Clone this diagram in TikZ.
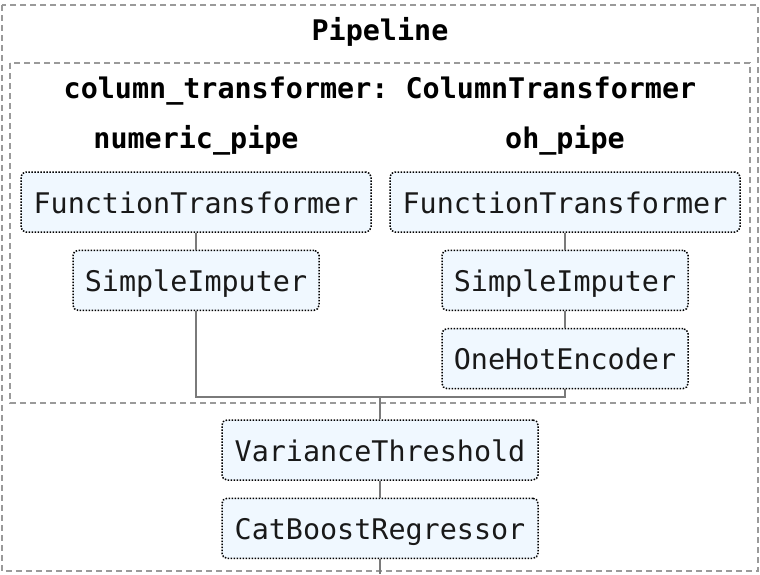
\documentclass[tikz,border=0pt]{standalone}
\usepackage{fontspec}
\setmonofont{DejaVu Sans Mono}
\usetikzlibrary{positioning}
\definecolor{stepfill}{HTML}{F0F8FF}
\definecolor{linegray}{HTML}{7A7A7A}
\definecolor{boxgray}{HTML}{9A9A9A}

\begin{document}
\begin{tikzpicture}[x=1pt, y=-1pt, node distance=16.8pt]
        % Define block styles
        \tikzset{
          stepbox/.style = {rectangle, draw=black, dash pattern=on 1.5pt off 1.5pt, line width=1.5pt, fill=stepfill, rounded corners=5pt, minimum height=60pt, text height=22pt, text depth=0pt, inner xsep=0pt, font=\ttfamily\fontsize{28.4}{30}\selectfont, text=black!90},
          titlelbl/.style = {font=\ttfamily\bfseries\fontsize{28.4}{30}\selectfont, inner sep=0pt, anchor=base},
          groupbox/.style = {draw=boxgray, dash pattern=on 6pt off 4pt, line width=1.3pt},
          line/.style = {draw=linegray, line width=2pt},
        }
        \useasboundingbox (0,0) rectangle (760,574);

        % Define group boxes
        \draw [groupbox] (2,5) rectangle (758,571);
        \draw [groupbox] (10,63) rectangle (750,403);

        % Define labels
        \node [titlelbl] (pipe) at (380,40) {Pipeline};
        \node [titlelbl] (coltr) at (380,98) {column\_transformer: ColumnTransformer};
        \node [titlelbl] (numpipe) at (196,148) {numeric\_pipe};
        \node [titlelbl] (ohpipe) at (565,148) {oh\_pipe};

        % Define nodes
        \node [stepbox, minimum width=350pt] (ftL) at (196,202) {FunctionTransformer};
        \node [stepbox, minimum width=246pt, below=of ftL] (siL) {SimpleImputer};
        \node [stepbox, minimum width=350pt] (ftR) at (565,202) {FunctionTransformer};
        \node [stepbox, minimum width=246pt, below=of ftR] (siR) {SimpleImputer};
        \node [stepbox, minimum width=246pt, below=of siR] (ohe) {OneHotEncoder};
        \node [stepbox, minimum width=316pt] (vt) at (380,450) {VarianceThreshold};
        \node [stepbox, minimum width=316pt, below=of vt] (cb) {CatBoostRegressor};
        \coordinate (join) at (380,397);
        \coordinate (tail) at (380,574);

        % Connect nodes with paths
        \path [line] (ftL) -- (siL);
        \path [line] (ftR) -- (siR);
        \path [line] (siR) -- (ohe);
        \path [line] (siL) |- (join) -| (ohe);
        \path [line] (join) -- (vt);
        \path [line] (vt) -- (cb);
        \path [line] (cb) -- (tail);

\end{tikzpicture}
\end{document}
